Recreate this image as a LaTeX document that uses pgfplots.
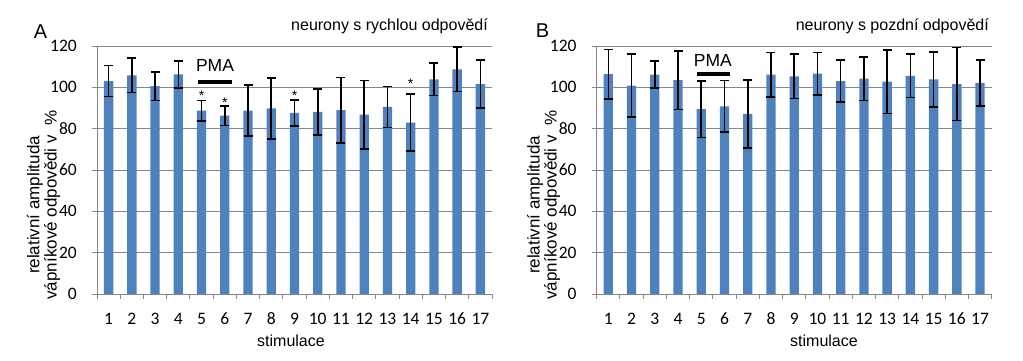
\documentclass[border=0pt]{standalone}
\usepackage{pgfplots}
\pgfplotsset{compat=1.18}
\usepackage{pgfplotstable}
\usepackage{fontspec}
\setmainfont{Liberation Sans}
\newfontfamily\carlito{Carlito}
\definecolor{barblue}{RGB}{79,129,189}
\definecolor{gridgray}{RGB}{134,134,134}

\pgfplotstableread{
x y e
1 103.0 7.5
2 105.8 8.3
3 100.6 6.9
4 106.3 6.5
5 88.7 5.0
6 86.3 4.7
7 88.7 12.3
8 89.8 14.8
9 87.6 6.3
10 88.1 11.2
11 89.0 15.8
12 86.8 16.5
13 90.5 9.9
14 82.9 13.8
15 103.9 7.8
16 108.7 10.7
17 101.6 11.7
}\dataA

\pgfplotstableread{
x y e
1 106.4 12.0
2 100.8 15.3
3 106.1 6.5
4 103.5 14.2
5 89.5 13.7
6 90.8 12.5
7 87.1 16.4
8 106.1 10.8
9 105.3 10.7
10 106.6 10.2
11 103.0 10.1
12 104.2 10.6
13 102.7 15.3
14 105.6 10.5
15 103.9 13.3
16 101.6 17.7
17 102.1 11.0
}\dataB

\pgfplotsset{panel/.style={
  scale only axis, width=395pt, height=248pt,
  xmin=0.5, xmax=17.5, ymin=0, ymax=120,
  ytick={0,20,...,120},
  axis x line*=bottom, axis y line*=left,
  axis line style={gridgray, line width=0.9pt},
  ymajorgrids, grid style={gridgray, line width=0.9pt},
  tick align=outside, major tick length=5pt,
  tick style={gridgray, line width=0.9pt},
  xtick={0.5,1.5,...,17.5}, xticklabels={},
  extra x ticks={1,...,17},
  extra x tick style={major tick length=0pt},
  /pgf/number format/assume math mode=true,
  tick label style={font=\carlito\fontsize{17.5}{20}\selectfont, text=black},
  yticklabel style={anchor=east, inner sep=0pt, xshift=-15pt},
  xticklabel style={anchor=center, inner sep=0pt, yshift=-25pt},
  clip=false,
}}
\pgfplotsset{barplot/.style={ybar, bar width=9.3pt, fill=barblue, draw=none,
  error bars/.cd, y dir=both, y explicit,
  error bar style={black, line width=1.6pt},
  error mark options={rotate=90, black, mark size=4.5pt, line width=1.6pt}}}

\begin{document}
\begin{tikzpicture}
\useasboundingbox (0pt,0pt) rectangle (1023pt,361pt);
% Panel A
\begin{axis}[panel, at={(97pt,67pt)}, anchor=south west]
\addplot[barplot] table[x=x, y=y, y error=e] {\dataA};
\addplot[black, line width=4pt] coordinates {(4.86,102.6) (6.32,102.6)};
\node[font=\fontsize{17.5}{20}\selectfont] at (axis cs:5.58,110.4) {PMA};
\node[anchor=base, font=\fontsize{14}{16}\selectfont] at (axis cs:5,93.4) {*};
\node[anchor=base, font=\fontsize{14}{16}\selectfont] at (axis cs:6,90.1) {*};
\node[anchor=base, font=\fontsize{14}{16}\selectfont] at (axis cs:9,93.8) {*};
\node[anchor=base, font=\fontsize{14}{16}\selectfont] at (axis cs:14,99.5) {*};
\end{axis}
% Panel B
\begin{axis}[panel, at={(596.7pt,67pt)}, anchor=south west]
\addplot[barplot] table[x=x, y=y, y error=e] {\dataB};
\addplot[black, line width=4pt] coordinates {(4.80,106.6) (6.24,106.6)};
\node[font=\fontsize{17.5}{20}\selectfont] at (axis cs:5.50,113.2) {PMA};
\end{axis}
% texts
\node[font=\fontsize{20}{24}\selectfont] at (40.5pt,329pt) {A};
\node[font=\fontsize{20}{24}\selectfont] at (542.5pt,330pt) {B};
\node[anchor=base east, inner sep=0pt, font=\fontsize{16}{19}\selectfont] at (488pt,330pt) {neurony s rychlou odpovědí};
\node[anchor=base east, inner sep=0pt, font=\fontsize{16}{19}\selectfont] at (989pt,330pt) {neurony s pozdní odpovědí};
\node[font=\fontsize{16}{19}\selectfont] at (291pt,20pt) {stimulace};
\node[font=\fontsize{16}{19}\selectfont] at (824pt,20pt) {stimulace};
\node[rotate=90, align=center, font=\fontsize{17}{16}\selectfont] at (43.5pt,156pt) {relativní amplituda\\vápníkové odpovědi v \ \%};
\node[rotate=90, align=center, font=\fontsize{17}{16}\selectfont] at (543.7pt,156pt) {relativní amplituda\\vápníkové odpovědi v \ \%};
\end{tikzpicture}
\end{document}
